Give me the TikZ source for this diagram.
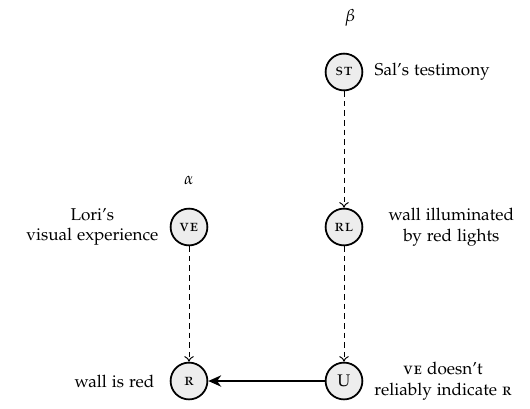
\documentclass[tikz,border=0pt]{standalone}
\usepackage[T1]{fontenc}
\usepackage[sc]{mathpazo}
\usetikzlibrary{arrows.meta}
\begin{document}
\begin{tikzpicture}[x=0.625pt,y=-0.625pt,
  var/.style={circle,draw=black,line width=1.1pt,fill=black!7,minimum size=23pt,inner sep=0pt,font=\fontsize{10.5}{12}\selectfont\scshape},
  lbl/.style={align=center,font=\fontsize{10.7}{13}\selectfont},
  dep/.style={dash pattern=on 3.5pt off 2.5pt,line width=0.6pt,-{To[length=3.5pt,width=6pt]}},
  cause/.style={line width=1.5pt,-{Stealth[length=8pt,width=7pt,inset=2.5pt]}}]
\useasboundingbox (0,0) rectangle (530,408);
\node[var] (st) at (344,72) {s\kern0.6pt t};
\node[var] (rl) at (344,227) {r\kern0.6pt l};
\node[var] (ve) at (189,227) {v\kern0.6pt e};
\node[var] (r) at (189,381) {r};
\node[var] (u) at (344,381) {U};
\node[font=\fontsize{10.7}{13}\selectfont] (beta) at (350,18) {$\beta$};
\node[font=\fontsize{10.7}{13}\selectfont] (alpha) at (189,180) {$\alpha$};
\node[lbl,anchor=west] (stl) at (369,72) {Sal's testimony};
\node[lbl,anchor=west] (rll) at (383,227) {wall illuminated\\by red lights};
\node[lbl,anchor=east] (vel) at (164,227) {Lori's\\visual experience};
\node[lbl,anchor=east] (rlab) at (160,381) {wall is red};
\node[lbl] (ul) at (443,381) {\textsc{v\kern0.4pt e} doesn't\\reliably indicate \textsc{r}};
\draw[dep] (st) -- (rl);
\draw[dep] (rl) -- (u);
\draw[dep] (ve) -- (r);
\draw[cause] (u) -- (r);
\end{tikzpicture}
\end{document}
